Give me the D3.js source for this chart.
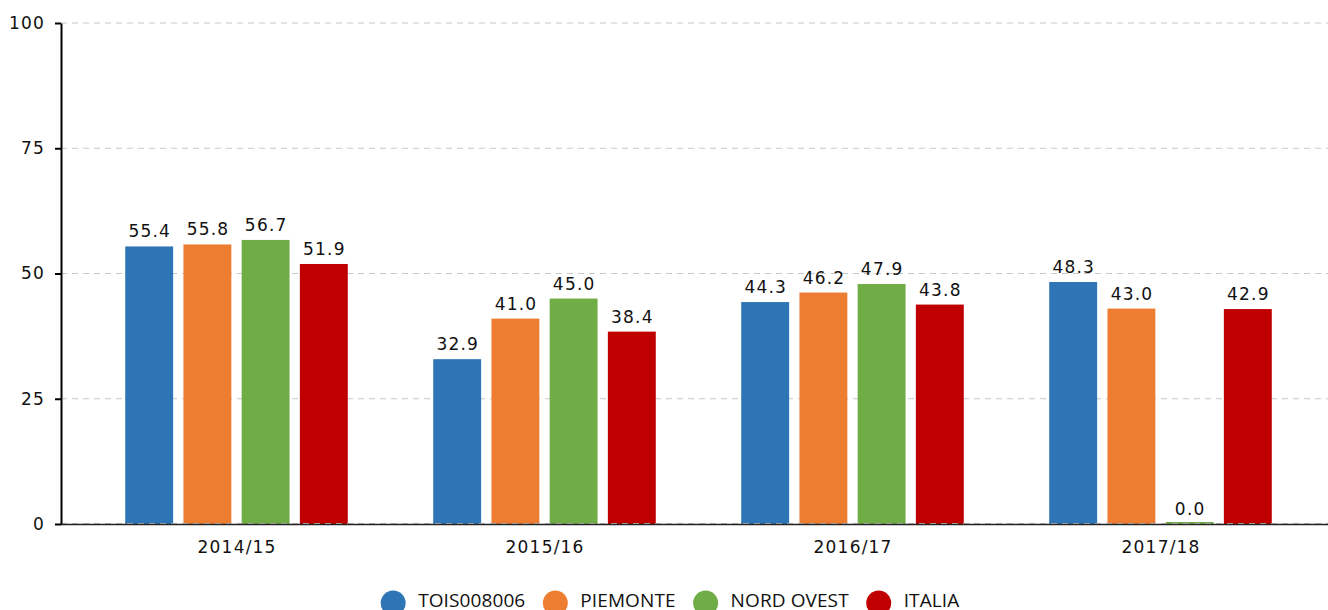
<!DOCTYPE html>
<html>
<head>
<meta charset="utf-8">
<script src="https://cdn.jsdelivr.net/npm/d3@7"></script>
<style>
    body { margin: 0; background: #fff; }
    svg { display: block; }
</style>
</head>
<body>
<svg id="chart" width="1328" height="610"></svg>
<script>
// data
const years = ["2014/15", "2015/16", "2016/17", "2017/18"];
const seriesNames = ["TOIS008006", "PIEMONTE", "NORD OVEST", "ITALIA"];
const seriesColors = ["#2e75b6", "#ed7d31", "#70ad47", "#c00000"];
const tois = [55.4, 32.9, 44.3, 48.3];
const piemonte = [55.8, 41.0, 46.2, 43.0];
const nordOvest = [56.7, 45.0, 47.9, 0.0];
const italia = [51.9, 38.4, 43.8, 42.9];
const yTicks = [0, 25, 50, 75, 100];

const seriesValues = [tois, piemonte, nordOvest, italia];

const rows = [];
years.forEach((year, i) => {
    seriesNames.forEach((name, j) => {
        rows.push({ year, name, value: seriesValues[j][i] });
    });
});

const svg = d3.select("#chart");
const font = "'DejaVu Sans', sans-serif";
const spacing = 1.2;

// scales
const x = d3.scaleBand()
    .domain(years)
    .range([82.5, 1314.5])
    .paddingInner(0.244)
    .paddingOuter(0.122);

const xSub = d3.scaleBand()
    .domain(seriesNames)
    .range([0, x.bandwidth()])
    .paddingInner(0.177)
    .paddingOuter(0.0885);

const y = d3.scaleLinear()
    .domain([0, 100])
    .range([524, 23]);

const color = d3.scaleOrdinal()
    .domain(seriesNames)
    .range(seriesColors);

// grid
svg.append("g")
    .selectAll("line")
    .data(yTicks)
    .join("line")
    .attr("x1", 61)
    .attr("x2", 1328)
    .attr("y1", d => y(d))
    .attr("y2", d => y(d))
    .attr("stroke", "#c8c8c8")
    .attr("stroke-width", 1)
    .attr("stroke-dasharray", "6,5");

// bars
const groups = svg.append("g")
    .selectAll("g")
    .data(years)
    .join("g")
    .attr("transform", d => `translate(${x(d)},0)`);

groups.selectAll("rect")
    .data(year => rows.filter(r => r.year == year))
    .join("rect")
    .attr("x", d => xSub(d.name))
    .attr("width", xSub.bandwidth())
    .attr("y", d => Math.min(y(d.value), y(0) - 2))
    .attr("height", d => Math.max(y(0) - y(d.value), 2))
    .attr("fill", d => color(d.name));

groups.selectAll("text")
    .data(year => rows.filter(r => r.year == year))
    .join("text")
    .attr("x", d => xSub(d.name) + xSub.bandwidth() / 2 + spacing / 2)
    .attr("y", d => y(d.value) - 9)
    .attr("text-anchor", "middle")
    .attr("font-family", font)
    .attr("font-size", 17)
    .attr("letter-spacing", spacing)
    .attr("fill", "#111")
    .text(d => d.value.toFixed(1));

// x axis
svg.append("line")
    .attr("x1", 61)
    .attr("x2", 1328)
    .attr("y1", y(0) + 0.5)
    .attr("y2", y(0) + 0.5)
    .attr("stroke", "#222")
    .attr("stroke-width", 1.5);

svg.append("line")
    .attr("x1", 61)
    .attr("x2", 1328)
    .attr("y1", y(0) - 0.5)
    .attr("y2", y(0) - 0.5)
    .attr("stroke", "#999")
    .attr("stroke-dasharray", "6,5");

svg.append("g")
    .selectAll("text")
    .data(years)
    .join("text")
    .attr("x", d => x(d) + x.bandwidth() / 2 + spacing / 2)
    .attr("y", 553)
    .attr("text-anchor", "middle")
    .attr("font-family", font)
    .attr("font-size", 17)
    .attr("letter-spacing", spacing)
    .attr("fill", "#111")
    .text(d => d);

// y axis
const yAxis = svg.append("g")
    .attr("transform", "translate(61,0)")
    .call(d3.axisLeft(y).tickValues(yTicks).tickSize(6).tickPadding(10).tickSizeOuter(0));

yAxis.select(".domain").attr("stroke", "#000").attr("stroke-width", 2);
yAxis.selectAll(".tick line").attr("stroke", "#000").attr("stroke-width", 2);
yAxis.selectAll(".tick text")
    .attr("font-family", font)
    .attr("font-size", 17)
    .attr("letter-spacing", spacing)
    .attr("fill", "#111");

// legend
const legend = svg.append("g");
const items = legend.selectAll("g")
    .data(seriesNames)
    .join("g");

items.append("circle")
    .attr("r", 12.5)
    .attr("cx", 0)
    .attr("cy", 603)
    .attr("fill", d => color(d));

items.append("text")
    .attr("x", 25)
    .attr("y", 607)
    .attr("font-family", "'Open Sans', sans-serif")
    .attr("font-size", 19)
    .attr("letter-spacing", 0.1)
    .attr("fill", "#111")
    .text(d => d);

var offset = 0;
const positions = [];
items.each(function () {
    const w = d3.select(this).select("text").node().getComputedTextLength();
    positions.push(offset);
    offset += 25 + w + 30;
});
const totalWidth = offset - 30 + 12.5;
const startX = 670 - totalWidth / 2 + 12.5;
items.attr("transform", (d, i) => `translate(${startX + positions[i]},0)`);
</script>
</body>
</html>
